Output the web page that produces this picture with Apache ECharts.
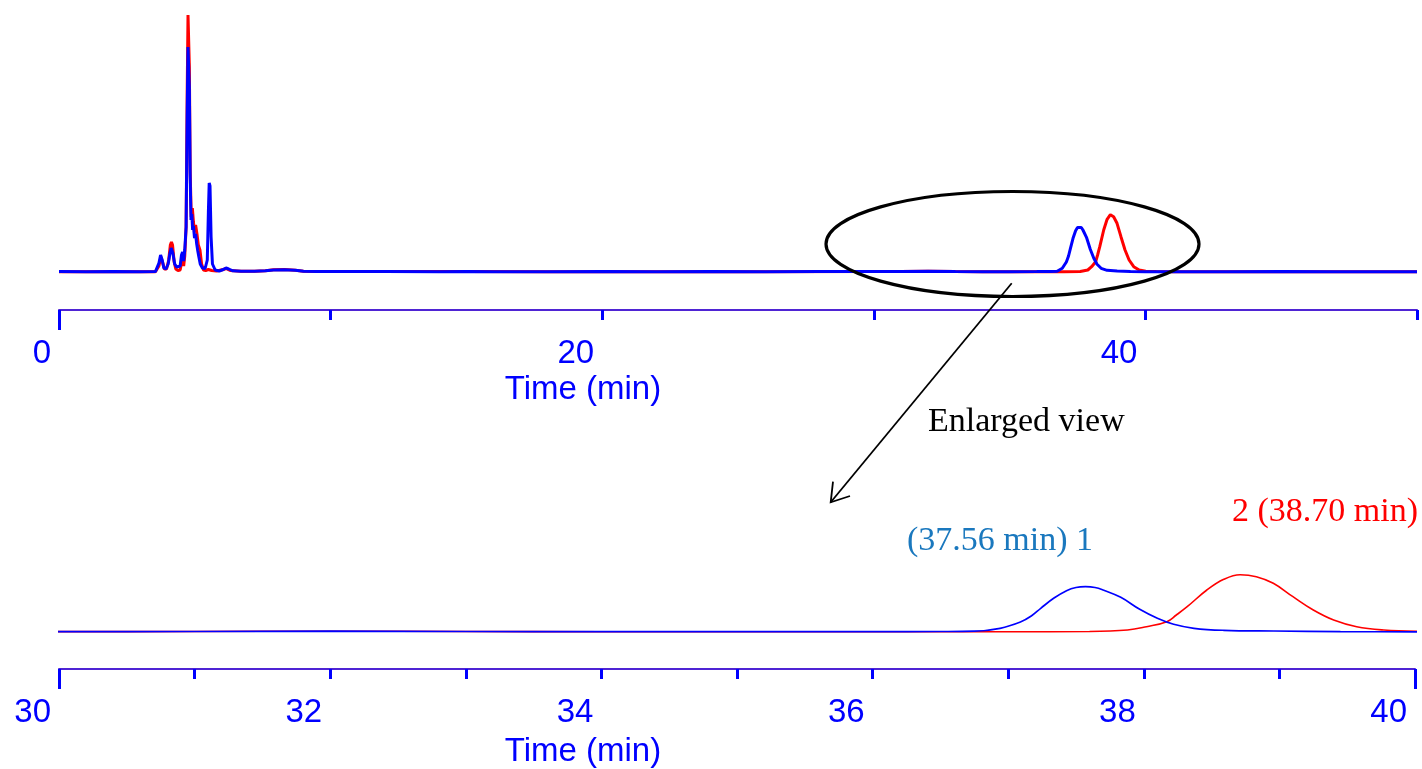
<!DOCTYPE html>
<html>
<head>
<meta charset="utf-8">
<script src="https://cdn.jsdelivr.net/npm/echarts@6/dist/echarts.min.js"></script>
<style>html,body{margin:0;padding:0;background:#fff}#c{width:1422px;height:769px}</style>
</head>
<body>
<div id="c"></div>
<script>
// time (min), signal (arbitrary units)
const blueData = [[0,0.4],[1,0.3],[2,0.4],[3,0.3],[3.55,0.4],[3.62,2],[3.68,9],[3.74,17],[3.8,12],[3.86,4],[3.94,3],[4.02,8],[4.08,18],[4.13,24],[4.19,19],[4.26,8],[4.33,5],[4.4,4],[4.46,6],[4.51,17],[4.55,20],[4.59,11],[4.63,22],[4.68,45],[4.72,160],[4.75,225],[4.77,225],[4.8,185],[4.83,95],[4.86,52],[4.89,58],[4.92,42],[4.95,46],[4.99,34],[5.03,38],[5.07,28],[5.11,21],[5.15,15],[5.2,8],[5.28,4],[5.38,3.5],[5.46,12],[5.5,60],[5.53,89],[5.56,86],[5.6,35],[5.65,8],[5.75,2],[5.9,1],[6.05,2.5],[6.15,4],[6.25,3],[6.4,1.2],[6.7,0.8],[7.2,0.8],[7.6,1.2],[7.9,2],[8.3,2.2],[8.7,1.8],[9.0,0.8],[9.5,0.5],[10.5,0.4],[12,0.5],[14,0.3],[15,0.6],[16,0.3],[18,0.3],[20,0.4],[22,0.3],[24,0.4],[26,0.3],[28,0.4],[30,0.4],[31,0.5],[32,0.8],[33,0.5],[34,0.3],[35,0.3],[36,0.4],[36.5,0.5],[36.75,0.8],[36.94,3.7],[37.09,10],[37.17,16],[37.24,23.7],[37.335,33.7],[37.43,41.3],[37.5,44.5],[37.57,45.3],[37.64,44.5],[37.7,42],[37.83,34.7],[37.97,22.7],[38.1,13.7],[38.22,7.7],[38.37,3.7],[38.59,1.7],[38.96,1.0],[39.45,0.4],[40,0.2],[41,0.3],[43,0.3],[45,0.4],[47,0.3],[50,0.3]];

const redData = [[0,0.3],[1,0.3],[2,0.3],[3,0.3],[3.55,0.3],[3.62,1.5],[3.68,6],[3.75,15],[3.82,9],[3.88,3],[3.96,3],[4.04,12],[4.1,27],[4.14,30],[4.18,27],[4.24,10],[4.3,3],[4.38,1.5],[4.46,2],[4.51,9],[4.55,14],[4.59,6],[4.63,16],[4.68,45],[4.72,180],[4.75,257],[4.77,257],[4.8,205],[4.83,100],[4.87,55],[4.91,64],[4.95,50],[4.99,40],[5.03,47],[5.08,38],[5.13,27],[5.19,22],[5.25,8],[5.32,2],[5.4,1.5],[5.5,2.5],[5.55,3],[5.62,1.5],[5.8,1],[6.05,2.5],[6.15,3.5],[6.3,1.5],[6.7,0.8],[7.2,0.8],[7.6,1.3],[7.9,2.2],[8.3,2.5],[8.7,1.8],[9.0,0.8],[9.5,0.4],[12,0.4],[15,0.5],[18,0.3],[20,0.3],[25,0.3],[30,0.4],[31,0.5],[32,0.8],[33,0.5],[34,0.3],[35,0.3],[36,0.3],[37,0.2],[37.6,0.5],[37.88,2],[38.02,5.3],[38.17,10.3],[38.24,17],[38.32,25.3],[38.465,42],[38.59,52.7],[38.71,57.3],[38.83,55.3],[38.955,48.7],[39.1,35.3],[39.25,22],[39.4,12],[39.57,5.3],[39.77,2],[40.01,0.7],[40.4,0.4],[41,0.3],[44,0.3],[47,0.3],[50,0.3]];

const fullLabels = [0, 20, 40];
const zoomLabels = [30, 32, 34, 36, 38, 40];
const axisTitle = 'Time (min)';
const noteText = 'Enlarged view';
const peak1Text = '(37.56 min) 1';
const peak2Text = '2 (38.70 min)';

const SANS = '"Liberation Sans", Arial, sans-serif';
const SERIF = '"Liberation Serif", "Times New Roman", serif';
const AX_LINE = '#4f24d4';
const BLUE = '#0000ff';

function mainAxis(grid, min, max, interval, labels, offset) {
  return {
    type: 'value', gridIndex: grid, position: 'bottom', min: min, max: max, interval: interval, offset: offset,
    splitLine: {show: false},
    axisLine: {show: true, onZero: false, lineStyle: {color: AX_LINE, width: 2}},
    axisTick: {show: true, length: 10, lineStyle: {color: BLUE, width: 3}},
    axisLabel: {
      show: true, color: BLUE, fontFamily: SANS, fontSize: 33, margin: 27,
      align: 'right', padding: [0, 8, 0, 0],
      formatter: v => (labels.indexOf(Math.round(v * 1000) / 1000) >= 0 ? String(Math.round(v)) : '')
    }
  };
}
function longTickAxis(grid, min, max, values, offset) {
  return {
    type: 'value', gridIndex: grid, position: 'bottom', min: min, max: max, offset: offset,
    splitLine: {show: false},
    axisLine: {show: false, onZero: false},
    axisTick: {show: true, length: 20, customValues: values, lineStyle: {color: BLUE, width: 3}},
    axisLabel: {show: false}
  };
}

const chart = echarts.init(document.getElementById('c'));
chart.setOption({
  animation: false,
  backgroundColor: '#fff',
  grid: [
    {left: 59, right: 5, top: 12, bottom: 487},
    {left: 59, right: 7, top: 560, bottom: 127}
  ],
  xAxis: [
    mainAxis(0, 0, 50, 10, fullLabels, 28),
    longTickAxis(0, 0, 50, [0], 28),
    mainAxis(1, 30, 40, 1, zoomLabels, 27),
    longTickAxis(1, 30, 40, [30, 40], 27)
  ],
  yAxis: [
    {type: 'value', gridIndex: 0, min: -10, max: 260, show: false},
    {type: 'value', gridIndex: 1, min: -10, max: 72, show: false}
  ],
  series: [
    {type: 'line', xAxisIndex: 0, yAxisIndex: 0, data: redData, showSymbol: false, lineStyle: {color: '#ff0000', width: 3}, itemStyle: {color: '#ff0000'}},
    {type: 'line', xAxisIndex: 0, yAxisIndex: 0, data: blueData, showSymbol: false, lineStyle: {color: '#0000ff', width: 3}, itemStyle: {color: '#0000ff'}},
    {type: 'line', xAxisIndex: 2, yAxisIndex: 1, data: redData, showSymbol: false, smooth: 0.4, lineStyle: {color: '#ff0000', width: 1.6}, itemStyle: {color: '#ff0000'}},
    {type: 'line', xAxisIndex: 2, yAxisIndex: 1, data: blueData, showSymbol: false, smooth: 0.4, lineStyle: {color: '#0000ff', width: 1.7}, itemStyle: {color: '#0000ff'}}
  ],
  graphic: [
    {type: 'ellipse', shape: {cx: 1012.5, cy: 244, rx: 186.5, ry: 52.5}, style: {fill: 'none', stroke: '#000', lineWidth: 3.2}, z: 10},
    {type: 'line', shape: {x1: 1011.7, y1: 283.3, x2: 830.7, y2: 502.3}, style: {stroke: '#000', lineWidth: 1.8}, z: 10},
    {type: 'polyline', shape: {points: [[833, 481.7], [830.7, 502.3], [850, 496]]}, style: {fill: 'none', stroke: '#000', lineWidth: 1.8}, z: 10},
    {type: 'text', x: 928, y: 422, style: {text: noteText, font: '34px ' + SERIF, fill: '#000', align: 'left', verticalAlign: 'middle'}, z: 10},
    {type: 'text', x: 907, y: 541, style: {text: peak1Text, font: '34px ' + SERIF, fill: '#1a78be', align: 'left', verticalAlign: 'middle'}, z: 10},
    {type: 'text', x: 1418, y: 512, style: {text: peak2Text, font: '34px ' + SERIF, fill: '#ff0000', align: 'right', verticalAlign: 'middle'}, z: 10},
    {type: 'text', x: 583, y: 390, style: {text: axisTitle, font: '33px ' + SANS, fill: BLUE, align: 'center', verticalAlign: 'middle'}, z: 10},
    {type: 'text', x: 583, y: 752, style: {text: axisTitle, font: '33px ' + SANS, fill: BLUE, align: 'center', verticalAlign: 'middle'}, z: 10}
  ]
});
</script>
</body>
</html>
